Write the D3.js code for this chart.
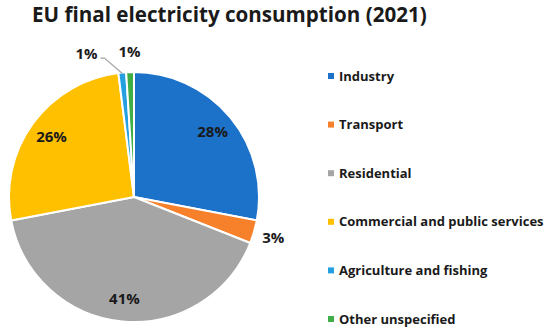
<!DOCTYPE html>
<html>
<head>
<meta charset="utf-8">
<script src="https://cdn.jsdelivr.net/npm/d3@7"></script>
<style>
  body { margin: 0; background: #fff; }
  svg { display: block; font-family: "Open Sans", sans-serif; font-weight: bold; }
</style>
</head>
<body>
<div id="chart"></div>
<script>
// data
const categories = ["Industry", "Transport", "Residential", "Commercial and public services", "Agriculture and fishing", "Other unspecified"];
const shares = [28, 3, 41, 26, 1, 1];
const colours = ["#1c71c9", "#f7802b", "#a5a5a5", "#ffc000", "#24a0e0", "#3fae47"];
const title = "EU final electricity consumption (2021)";

const width = 550, height = 334;
const cx = 134, cy = 197, radius = 125;

const svg = d3.select("#chart").append("svg")
    .attr("width", width)
    .attr("height", height);

svg.append("text")
    .attr("x", 32)
    .attr("y", 22)
    .attr("font-size", 20.6)
    .attr("fill", "#1a1a1a")
    .text(title);

const data = categories.map((c, i) => ({ name: c, value: shares[i], colour: colours[i] }));

const pie = d3.pie().sort(null).value(d => d.value);
const arcs = pie(data);

const arc = d3.arc().innerRadius(0).outerRadius(radius);
const inLabel = d3.arc().innerRadius(102).outerRadius(102);
const outLabel = d3.arc().innerRadius(145).outerRadius(145);

const plot = svg.append("g")
    .attr("transform", `translate(${cx},${cy})`);

plot.selectAll("path")
    .data(arcs)
    .enter()
    .append("path")
    .attr("d", arc)
    .attr("fill", d => d.data.colour)
    .attr("stroke", "#fff")
    .attr("stroke-width", 2)
    .attr("stroke-linejoin", "round");

// small slices get their label outside, big ones inside
const labels = arcs.map(d => {
    const small = d.data.value < 5;
    const p = (small ? outLabel : inLabel).centroid(d);
    return { d: d, x: p[0], y: p[1], small: small, leader: false };
});

// push colliding outside labels to the left, with a leader line
for (let i = labels.length - 1; i > 0; i--) {
    const a = labels[i - 1], b = labels[i];
    if (a.small && b.small && Math.abs(a.x - b.x) < 26 && Math.abs(a.y - b.y) < 14) {
        a.x = b.x - 43;
        a.y = b.y + 2;
        a.leader = true;
    }
}

labels.filter(l => l.leader).forEach(l => {
    const edge = d3.arc().innerRadius(radius - 1).outerRadius(radius - 1).centroid(l.d);
    plot.append("polyline")
        .attr("points", [[edge[0], edge[1]], [l.x + 18, l.y + 4], [l.x + 14, l.y + 4]].join(" "))
        .attr("fill", "none")
        .attr("stroke", "#a6a6a6")
        .attr("stroke-width", 1.3);
});

plot.selectAll("text.lbl")
    .data(labels)
    .enter()
    .append("text")
    .attr("class", "lbl")
    .attr("x", l => l.x)
    .attr("y", l => l.y)
    .attr("dy", "0.35em")
    .attr("text-anchor", "middle")
    .attr("font-size", 15)
    .attr("fill", "#1a1a1a")
    .text(l => l.d.data.value + "%");

// legend
const legend = svg.append("g")
    .attr("transform", "translate(328,76)");

const row = legend.selectAll("g")
    .data(data)
    .enter()
    .append("g")
    .attr("transform", (d, i) => `translate(0,${i * 48.6})`);

row.append("rect")
    .attr("x", 0)
    .attr("y", -3)
    .attr("width", 6)
    .attr("height", 6)
    .attr("fill", d => d.colour);

row.append("text")
    .attr("x", 11)
    .attr("y", 0)
    .attr("dy", "0.35em")
    .attr("font-size", 13)
    .attr("fill", "#1a1a1a")
    .text(d => d.name);
</script>
</body>
</html>
